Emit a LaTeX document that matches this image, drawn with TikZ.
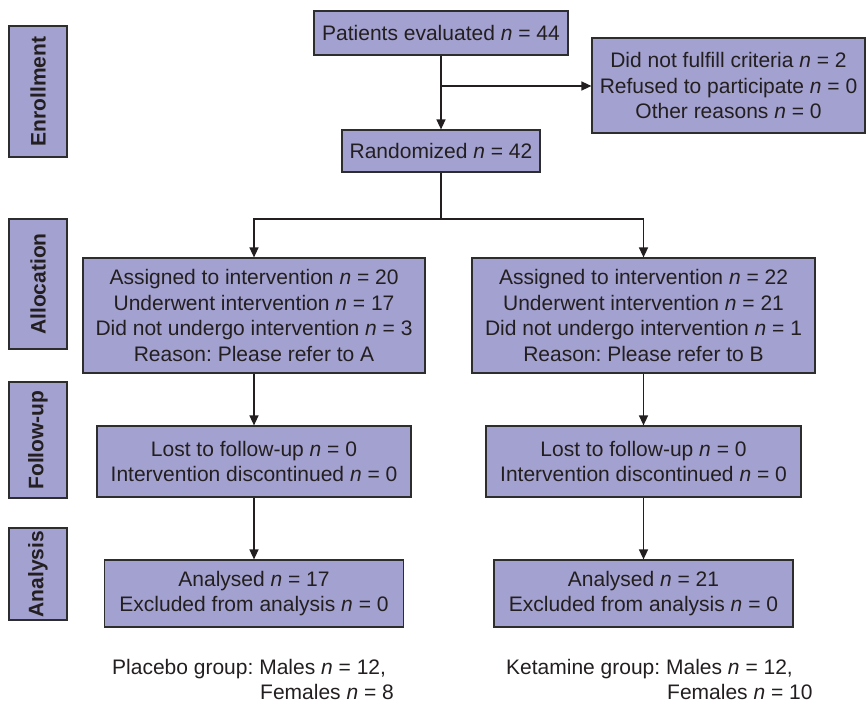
\documentclass[tikz,border=0pt]{standalone}
\usepackage{fontspec}
\setmainfont{Liberation Sans}
\usetikzlibrary{positioning,arrows.meta}
\definecolor{boxfill}{RGB}{163,161,207}
\definecolor{boxline}{RGB}{45,45,45}
\definecolor{inktext}{RGB}{35,31,32}
\newcommand{\nvar}{\textit{n}}
\frenchspacing
\tikzset{
  flowbox/.style={draw=boxline, fill=boxfill, line width=1.2pt, align=center, text=inktext, inner sep=2pt},
  phasebox/.style={flowbox, rotate=90, font=\bfseries\fontsize{21}{25.5}\selectfont, minimum height=58pt},
  flowline/.style={line width=1.4pt, draw=inktext},
  flowarrow/.style={flowline, -{Triangle[length=10pt,width=9pt]}},
  groupnote/.style={anchor=north west, align=left, text=inktext, inner sep=0pt},
}
\begin{document}
\begin{tikzpicture}[x=1pt, y=-1pt, font=\fontsize{21}{25.5}\selectfont]
\useasboundingbox (0,0) rectangle (867,703);

% phase labels
\node[phasebox, minimum width=131pt] (enrol) at (38,91.5) {Enrollment};
\node[phasebox, minimum width=130pt] (alloc) at (38,284) {Allocation};
\node[phasebox, minimum width=116pt] (follow) at (38,440) {Follow-up};
\node[phasebox, minimum width=92pt] (analysis) at (38,574) {Analysis};

% enrollment
\node[flowbox, minimum width=254pt, minimum height=44pt] (eval) at (441,33) {Patients evaluated \nvar{} = 44};
\node[flowbox, minimum width=273pt, minimum height=95pt] (excl) at (728.5,85.5) {Did not fulfill criteria \nvar{} = 2\\Refused to participate \nvar{} = 0\\Other reasons \nvar{} = 0};
\node[flowbox, minimum width=198pt, minimum height=42pt] (rand) at (441,151) {Randomized \nvar{} = 42};

% allocation
\node[flowbox, minimum width=342pt, minimum height=115pt] (allocA) at (254,315.5) {Assigned to intervention \nvar{} = 20\\Underwent intervention \nvar{} = 17\\Did not undergo intervention \nvar{} = 3\\Reason: Please refer to A};
\node[flowbox, minimum width=343pt, minimum height=115pt] (allocB) at (643.5,315.5) {Assigned to intervention \nvar{} = 22\\Underwent intervention \nvar{} = 21\\Did not undergo intervention \nvar{} = 1\\Reason: Please refer to B};

% follow-up
\node[flowbox, minimum width=314pt, minimum height=71pt] (followA) at (254,461.5) {Lost to follow-up \nvar{} = 0\\Intervention discontinued \nvar{} = 0};
\node[flowbox, minimum width=315pt, minimum height=71pt] (followB) at (643.5,461.5) {Lost to follow-up \nvar{} = 0\\Intervention discontinued \nvar{} = 0};

% analysis
\node[flowbox, minimum width=299pt, minimum height=67pt] (anaA) at (254,593.5) {Analysed \nvar{} = 17\\Excluded from analysis \nvar{} = 0};
\node[flowbox, minimum width=299pt, minimum height=67pt] (anaB) at (643.5,593.5) {Analysed \nvar{} = 21\\Excluded from analysis \nvar{} = 0};

% group notes
\node[groupnote] (placebo) at (112,659) {Placebo group: Males \nvar{} = 12,\\\hspace*{148pt}Females \nvar{} = 8};
\node[groupnote] (ketamine) at (506,659) {Ketamine group: Males \nvar{} = 12,\\\hspace*{161pt}Females \nvar{} = 10};

% connectors
\coordinate (split) at (eval.south |- 0,86);
\coordinate (fork) at (rand.south |- 0,219);
\draw[flowarrow] (eval.south) -- (rand.north);
\draw[flowarrow] (split) -- (split -| excl.west);
\draw[flowline] (rand.south) -- (fork);
\draw[flowarrow] (fork) -| (allocA.north);
\draw[flowarrow] (fork) -| (allocB.north);
\draw[flowarrow] (allocA.south) -- (followA.north);
\draw[flowarrow] (allocB.south) -- (followB.north);
\draw[flowarrow] (followA.south) -- (anaA.north);
\draw[flowarrow] (followB.south) -- (anaB.north);
\end{tikzpicture}
\end{document}
